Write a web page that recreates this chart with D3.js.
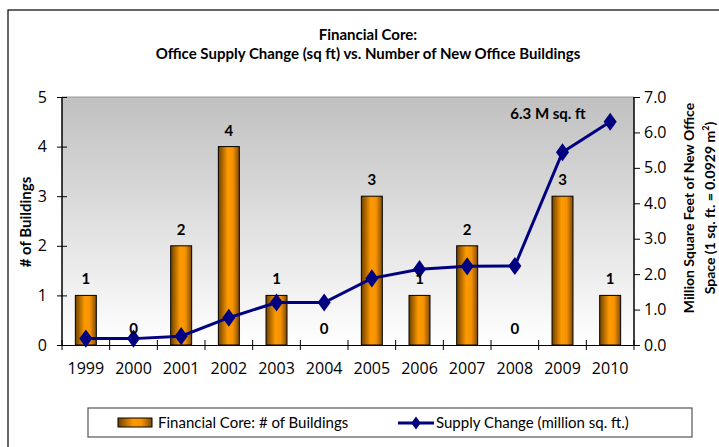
<!DOCTYPE html>
<html><head><meta charset="utf-8">
<script src="https://cdn.jsdelivr.net/npm/d3@7"></script>
<style>body{margin:0;background:#fff;}svg{display:block;font-family:Lato,"Open Sans",sans-serif;}</style>
</head><body>
<script>
const years = ["1999","2000","2001","2002","2003","2004","2005","2006","2007","2008","2009","2010"];
const buildings = [1,0,2,4,1,0,3,1,2,0,3,1];
const supply = [0.18,0.18,0.25,0.77,1.2,1.2,1.88,2.14,2.22,2.23,5.44,6.3];
const leftTicks = [0,1,2,3,4,5];
const rightTicks = [0,1,2,3,4,5,6,7];

const W=719,H=447;
const svg=d3.select("body").append("svg").attr("width",W).attr("height",H);
const m={l:62,r:634,t:97,b:345};
const tickFont="'Open Sans',sans-serif";

const defs=svg.append("defs");
const bg=defs.append("linearGradient").attr("id","bg").attr("x1",0).attr("y1",0).attr("x2",0).attr("y2",1);
bg.append("stop").attr("offset","0%").attr("stop-color","#c0c0c0");
bg.append("stop").attr("offset","100%").attr("stop-color","#ffffff");
const bar=defs.append("linearGradient").attr("id","bar").attr("x1",0).attr("y1",0).attr("x2",1).attr("y2",0);
bar.append("stop").attr("offset","0%").attr("stop-color","#6e4000");
bar.append("stop").attr("offset","45%").attr("stop-color","#ff9a00");
bar.append("stop").attr("offset","70%").attr("stop-color","#f59200");
bar.append("stop").attr("offset","100%").attr("stop-color","#7e4a00");

// chart border
svg.append("rect").attr("x",8).attr("y",10).attr("width",W+10).attr("height",H+10)
  .attr("fill","none").attr("stroke","#000").attr("stroke-width",1.2);

const x=d3.scaleBand().domain(years).range([m.l,m.r]);
const yL=d3.scaleLinear().domain([0,5]).range([m.b,m.t]);
const yR=d3.scaleLinear().domain([0,7]).range([m.b,m.t]);

svg.append("rect").attr("x",m.l).attr("y",m.t).attr("width",m.r-m.l).attr("height",m.b-m.t).attr("fill","url(#bg)");
svg.append("line").attr("x1",m.l).attr("x2",m.r).attr("y1",m.t).attr("y2",m.t).attr("stroke","#999").attr("stroke-width",1.2);

// bars
const bw=x.bandwidth()*0.44;
svg.selectAll("rect.b").data(years).join("rect").attr("class","b")
  .attr("x",d=>x(d)+x.bandwidth()/2-bw/2).attr("width",bw)
  .attr("y",(d,i)=>yL(buildings[i])).attr("height",(d,i)=>yL(0)-yL(buildings[i]))
  .attr("fill","url(#bar)").attr("stroke","#000").attr("stroke-width",1)
  .style("display",(d,i)=>buildings[i]>0?null:"none");

// axes
const fs="16px";
const gx=svg.append("g").attr("transform",`translate(0,${m.b})`)
  .call(d3.axisBottom(x).tickSize(0).tickPadding(18));
gx.attr("font-family",tickFont);
gx.select(".domain").attr("stroke","#000").attr("stroke-width",1.2);
gx.selectAll("text").attr("font-size",fs).attr("fill","#000").style("font-family",tickFont);
// boundary ticks
const bounds=years.map(d=>x(d)).concat([m.r]);
svg.selectAll("line.xt").data(bounds).join("line").attr("class","xt")
  .attr("x1",d=>d).attr("x2",d=>d).attr("y1",m.b-5).attr("y2",m.b+5).attr("stroke","#000");

const gl=svg.append("g").attr("transform",`translate(${m.l},0)`)
  .call(d3.axisLeft(yL).tickValues(leftTicks).tickSize(5).tickPadding(10).tickFormat(d3.format("d")));
gl.attr("font-family",tickFont);
gl.select(".domain").remove();
svg.append("line").attr("x1",m.l).attr("x2",m.l).attr("y1",m.t).attr("y2",m.b).attr("stroke","#000").attr("stroke-width",1.5);
gl.selectAll(".tick line").attr("x1",5).attr("x2",-5).attr("stroke","#000");
gl.selectAll("text").attr("font-size",fs).attr("fill","#000").style("font-family",tickFont);

const gr=svg.append("g").attr("transform",`translate(${m.r},0)`)
  .call(d3.axisRight(yR).tickValues(rightTicks).tickSize(6).tickPadding(4).tickFormat(d3.format(".1f")));
gr.attr("font-family",tickFont);
gr.select(".domain").remove();
svg.append("line").attr("x1",m.r).attr("x2",m.r).attr("y1",m.t).attr("y2",m.b).attr("stroke","#000").attr("stroke-width",1.5);
gr.selectAll(".tick line").attr("stroke","#000");
gr.selectAll("text").attr("font-size",fs).attr("fill","#000").style("font-family",tickFont);

// line
const cx=d=>x(d)+x.bandwidth()/2;
const line=d3.line().x((d,i)=>cx(years[i])).y(d=>yR(d));
svg.append("path").datum(supply).attr("d",line).attr("fill","none").attr("stroke","#000080").attr("stroke-width",3);
const dm=d3.symbol().type(d3.symbolDiamond).size(95);
svg.selectAll("path.dm").data(supply).join("path").attr("class","dm")
  .attr("d",dm).attr("transform",(d,i)=>`translate(${cx(years[i])},${yR(d)}) scale(1.25,1)`).attr("fill","#000080");

// bar labels
svg.selectAll("text.bl").data(buildings).join("text").attr("class","bl")
  .attr("x",(d,i)=>cx(years[i])).attr("y",d=>d>0?yL(d)-11:m.b-11)
  .attr("text-anchor","middle").attr("font-size","15px").attr("font-weight","bold").text(d=>d);

// annotation
svg.append("text").attr("x",548).attr("y",119).attr("text-anchor","middle").attr("font-size","15px").attr("font-weight","bold").text("6.3 M sq. ft");

// titles
svg.append("text").attr("x",368).attr("y",40).attr("text-anchor","middle").attr("font-size","15px").attr("font-weight","bold").text("Financial Core:");
svg.append("text").attr("x",368).attr("y",59).attr("text-anchor","middle").attr("font-size","15px").attr("font-weight","bold").text("Office Supply Change (sq ft) vs. Number of New Office Buildings");

svg.append("text").attr("transform","translate(31,222) rotate(-90)").attr("text-anchor","middle").attr("font-size","15px").attr("font-weight","bold").text("# of Buildings");
svg.append("text").attr("transform","translate(694,208) rotate(-90)").attr("text-anchor","middle").attr("font-size","14px").attr("font-weight","bold").text("Million Square Feet of New Office");
const t2=svg.append("text").attr("transform","translate(715,208) rotate(-90)").attr("text-anchor","middle").attr("font-size","14px").attr("font-weight","bold");
t2.append("tspan").text("Space (1 sq. ft. = 0.0929 m");
t2.append("tspan").attr("font-size","9px").attr("dy","-6").text("2");
t2.append("tspan").attr("dy","6").text(")");

// legend
svg.append("rect").attr("x",88).attr("y",408).attr("width",604).attr("height",29).attr("fill","#fff").attr("stroke","#555").attr("stroke-width",1.2);
svg.append("rect").attr("x",118).attr("y",418).attr("width",34).attr("height",9).attr("fill","url(#bar)").attr("stroke","#000");
svg.append("text").attr("x",158).attr("y",428).attr("font-size","15px").text("Financial Core:  # of Buildings");
svg.append("line").attr("x1",398).attr("x2",434).attr("y1",423).attr("y2",423).attr("stroke","#000080").attr("stroke-width",3);
svg.append("path").attr("d",d3.symbol().type(d3.symbolDiamond).size(50)).attr("transform","translate(416,423) scale(1.25,1)").attr("fill","#000080");
svg.append("text").attr("x",436).attr("y",428).attr("font-size","15px").text("Supply Change (million sq. ft.)");
</script>
</body></html>
